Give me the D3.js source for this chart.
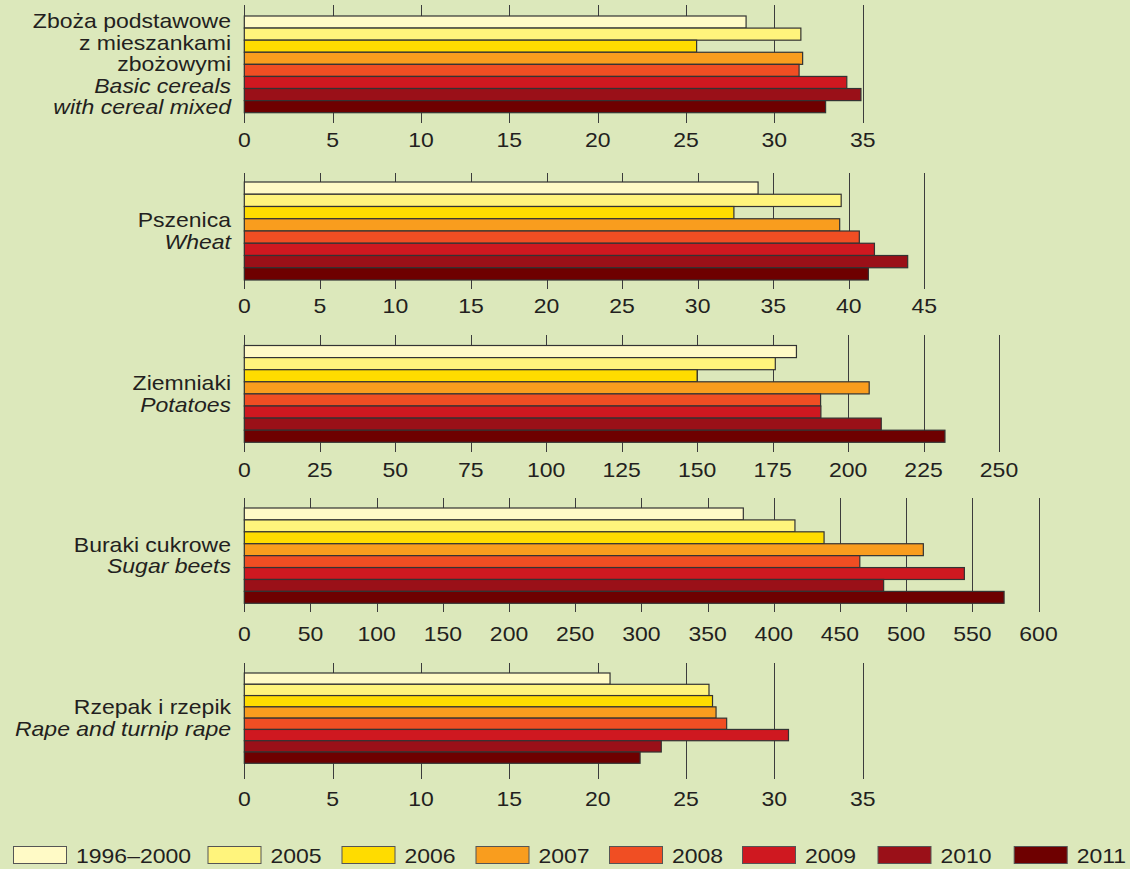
<!DOCTYPE html>
<html><head><meta charset="utf-8">
<script src="https://cdn.jsdelivr.net/npm/d3@7"></script>
<style>
html,body{margin:0;padding:0;background:#dce8bb;}
svg{display:block;}
text{font-family:"Liberation Sans",Arial,Helvetica,sans-serif;fill:#231f20;}
</style></head>
<body>
<svg id="chart" width="1130" height="869"></svg>
<script>
// ---- data ----
const years = ["1996–2000","2005","2006","2007","2008","2009","2010","2011"];
const colors = ["#fffac6","#fff47c","#ffdc00","#f99d1e","#f04e23","#cf1820","#9a1018","#6e0000"];

const cerealsLabel = [["Zboża podstawowe",false],["z mieszankami",false],["zbożowymi",false],["Basic cereals",true],["with cereal mixed",true]];
const cerealsValues = [28.4, 31.5, 25.6, 31.6, 31.4, 34.1, 34.9, 32.9];
const cerealsTicks = [0,5,10,15,20,25,30,35];

const wheatLabel = [["Pszenica",false],["Wheat",true]];
const wheatValues = [34.0, 39.5, 32.4, 39.4, 40.7, 41.7, 43.9, 41.3];
const wheatTicks = [0,5,10,15,20,25,30,35,40,45];

const potatoesLabel = [["Ziemniaki",false],["Potatoes",true]];
const potatoesValues = [182.9, 175.9, 150.0, 207.0, 190.9, 191.0, 211.0, 232.1];
const potatoesTicks = [0,25,50,75,100,125,150,175,200,225,250];

const beetsLabel = [["Buraki cukrowe",false],["Sugar beets",true]];
const beetsValues = [377, 416, 438, 513, 465, 544, 483, 574];
const beetsTicks = [0,50,100,150,200,250,300,350,400,450,500,550,600];

const rapeLabel = [["Rzepak i rzepik",false],["Rape and turnip rape",true]];
const rapeValues = [20.7, 26.3, 26.5, 26.7, 27.3, 30.8, 23.6, 22.4];
const rapeTicks = [0,5,10,15,20,25,30,35];

// ---- layout ----
const panels = [
  {label:cerealsLabel, values:cerealsValues, ticks:cerealsTicks, lineTop:5,   lineBot:123, barTop:16,    barBot:112.7, labelY:147, xEnd:862.7},
  {label:wheatLabel,   values:wheatValues,   ticks:wheatTicks,   lineTop:173, lineBot:289, barTop:182,   barBot:280,   labelY:313, xEnd:924.3},
  {label:potatoesLabel,values:potatoesValues,ticks:potatoesTicks,lineTop:335, lineBot:452, barTop:345.5, barBot:442.3, labelY:477, xEnd:999},
  {label:beetsLabel,   values:beetsValues,   ticks:beetsTicks,   lineTop:498, lineBot:612, barTop:508,   barBot:603.3, labelY:641, xEnd:1038.5},
  {label:rapeLabel,    values:rapeValues,    ticks:rapeTicks,    lineTop:663, lineBot:779, barTop:673,   barBot:763.3, labelY:806, xEnd:862.7}
];
const x0 = 244.3;
const SX = 1.15, FS = 20, LH = 21.5;

const svg = d3.select("#chart");
svg.append("rect").attr("width",1130).attr("height",869).attr("fill","#dce8bb");

function stext(g, x, y, str, anchor, italic){
  const t = g.append("g").attr("transform",`translate(${x},${y}) scale(${SX},1)`)
    .append("text").attr("text-anchor",anchor).attr("font-size",FS).text(str);
  if(italic) t.attr("font-style","italic");
  return t;
}

panels.forEach(p=>{
  const g = svg.append("g");
  const dmax = p.ticks[p.ticks.length-1];
  const x = d3.scaleLinear().domain([0,dmax]).range([x0,p.xEnd]);
  const y = d3.scaleBand().domain(years).range([p.barTop,p.barBot]).padding(0);

  // grid lines
  g.selectAll("line.grid").data(p.ticks).join("line")
    .attr("x1",d=>Math.round(x(d))+0.5).attr("x2",d=>Math.round(x(d))+0.5)
    .attr("y1",p.lineTop).attr("y2",p.lineBot)
    .attr("stroke","#3c3c3c").attr("stroke-width",1);

  // bars
  g.selectAll("rect.bar").data(p.values).join("rect")
    .attr("x",x(0)).attr("y",(d,i)=>y(years[i]))
    .attr("width",d=>x(d)-x(0)).attr("height",y.bandwidth())
    .attr("fill",(d,i)=>colors[i]).attr("stroke","#333").attr("stroke-width",1.2);

  // tick labels
  p.ticks.forEach(t=>stext(g, x(t), p.labelY, String(t), "middle", false));

  // category labels
  const c = (p.barTop+p.barBot)/2;
  const n = p.label.length;
  const first = c - (n-1)*LH/2 + 7;
  p.label.forEach((l,i)=>stext(g, 231, first+i*LH, l[0], "end", l[1]));
});

// legend
const legX = [13,207.5,341.5,475.5,609,742,877.5,1013.7];
const lg = svg.append("g");
years.forEach((yr,i)=>{
  lg.append("rect").attr("x",legX[i]+0.5).attr("y",846.5).attr("width",53).attr("height",17)
    .attr("fill",colors[i]).attr("stroke","#555").attr("stroke-width",1);
  stext(lg, legX[i]+63, 862.5, yr, "start", false);
});
</script>
</body></html>
